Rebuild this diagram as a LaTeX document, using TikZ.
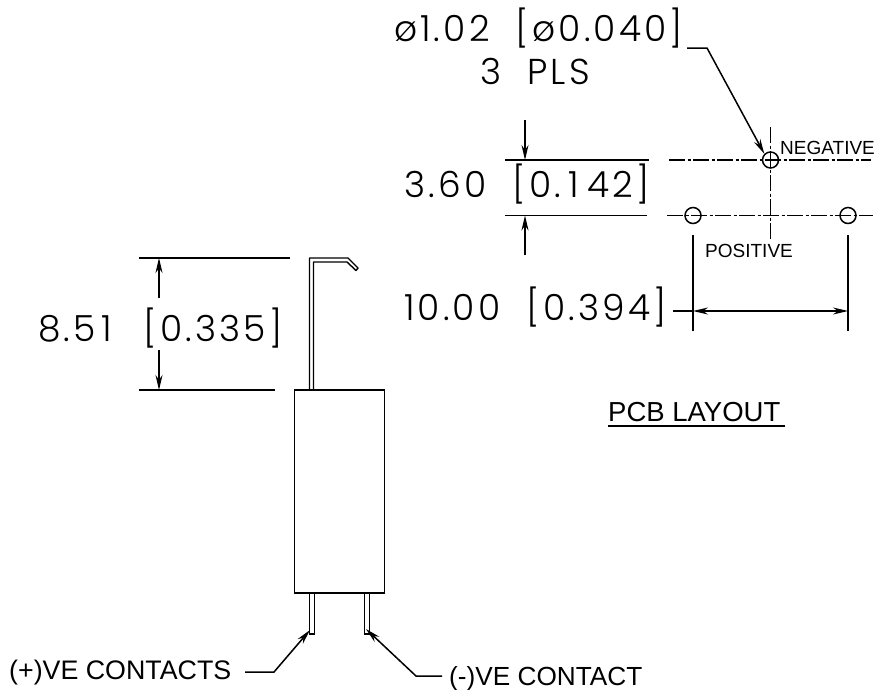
\documentclass[tikz,border=0pt]{standalone}
\usepackage{fontspec}
\setmainfont{Liberation Sans}
\newfontfamily\cadfont[UprightFont=* Light,LetterSpace=9]{Poppins}
\usetikzlibrary{arrows.meta}
\newcommand{\oneK}[1]{\kern#1pt 1\kern#1pt}
\tikzset{
  ln/.style={line width=1.5pt,black},
  thin ln/.style={line width=1.4pt,black},
  tip/.style={-{Stealth[length=15pt,width=7pt]}},
  dim/.style={ln,tip},
  dimb/.style={ln,{Stealth[length=15pt,width=7pt]}-{Stealth[length=15pt,width=7pt]}},
  centre/.style={line width=1.5pt,dash pattern=on 16pt off 2.5pt on 3pt off 2.5pt},
  cad/.style={inner sep=0pt,anchor=base west,font=\cadfont\fontsize{36}{36}\selectfont},
  lbl/.style={inner sep=0pt,anchor=base west,font=\fontsize{26.8}{27}\selectfont},
  small lbl/.style={inner sep=0pt,anchor=base west,font=\fontsize{19}{19}\selectfont},
  hole/.style={circle,draw,line width=1.5pt,minimum size=16pt,inner sep=0pt}
}
\begin{document}
\begin{tikzpicture}[x=1pt,y=-1pt]
\useasboundingbox (0,0) rectangle (882,689);
% texts
\node[cad] (t1) at (394,41) {ø\oneK{3}.02\ \ [ø0.040]};
\node[cad] (t2) at (480,84) {3\ \ PLS};
\node[cad] (t3) at (404,197) {3.60\ \ [0.\oneK{8}42]};
\node[cad] (t4) at (401,320) {\oneK{3}0.00\ \ [0.394]};
\node[cad] (t5) at (38,341) {8.5\oneK{5.5}\ \ [0.335]};
\node[small lbl] (neg) at (780,154) {NEGATIVE};
\node[small lbl] (pos) at (705,257) {POSITIVE};
\node[inner sep=0pt,anchor=base west,font=\fontsize{27.5}{28}\selectfont] (pcb) at (608,421) {PCB LAYOUT};
\coordinate (ua) at (608,426); \coordinate (ub) at (785,426);
\draw[ln] (ua) -- (ub);
\node[lbl] (pc) at (9,679) {(+)VE CONTACTS};
\node[inner sep=0pt,anchor=base west,font=\fontsize{26.2}{27}\selectfont] (nc) at (449,685) {(-)VE CONTACT};
% PCB holes
\node[hole] (hn) at (770.5,160) {};
\node[hole] (hl) at (693,215.5) {};
\node[hole] (hr) at (848,215.5) {};
\draw[centre] (669,160) -- (871,160);
\draw[centre] (667,215.5) -- (873,215.5);
\draw[centre] (770.5,127) -- (770.5,239);
% 3.60 dimension
\coordinate (e1a) at (505,160); \coordinate (e1b) at (649,160);
\coordinate (e2a) at (505,215.5); \coordinate (e2b) at (647,215.5);
\draw[ln] (e1a) -- (e1b);
\draw[ln] (e2a) -- (e2b);
\coordinate (a1) at (525,120); \coordinate (a1t) at (525,160);
\coordinate (a2) at (525,255); \coordinate (a2t) at (525,215.5);
\draw[dim] (a1) -- (a1t);
\draw[dim] (a2) -- (a2t);
% 10.00 dimension
\coordinate (x1a) at (693,235); \coordinate (x1b) at (693,331);
\coordinate (x2a) at (848,235); \coordinate (x2b) at (848,331);
\draw[ln] (x1a) -- (x1b);
\draw[ln] (x2a) -- (x2b);
\coordinate (d0) at (673,311); \coordinate (d1) at (693,311); \coordinate (d2) at (848,311);
\draw[ln] (d0) -- (d1);
\draw[dimb] (d1) -- (d2);
% diameter leader
\coordinate (l0) at (687,48); \coordinate (l1) at (707,48);
\draw[ln,tip] (l0) -- (l1) -- (hn.north west);
% left dimension
\coordinate (s1a) at (139,258); \coordinate (s1b) at (290,258);
\coordinate (s2a) at (139,390); \coordinate (s2b) at (275,390);
\draw[ln] (s1a) -- (s1b);
\draw[ln] (s2a) -- (s2b);
\coordinate (b1) at (159,298); \coordinate (b1t) at (159,258);
\coordinate (b2) at (159,350); \coordinate (b2t) at (159,390);
\draw[dim] (b1) -- (b1t);
\draw[dim] (b2) -- (b2t);
% body and pins
\node[draw,line width=1.4pt,outer sep=0pt,minimum width=90pt,minimum height=203pt,inner sep=0pt,anchor=north west] (body) at (294.5,390) {};
\draw[thin ln,line join=round] (309.5,390) -- (309.5,258) -- (348,258) -- (358,268) -- (356,270.5) -- (347,262) -- (313.5,262) -- (313.5,390);
\draw[thin ln] (309.5,593) -- (309.5,628);
\draw[thin ln] (314.5,593) -- (314.5,634) -- (309.5,634) -- (309.5,628);
\draw[thin ln] (364.5,593) -- (364.5,634) -- (369.5,634) -- (369.5,593);
% contact leaders
\coordinate (c0) at (245,672); \coordinate (c1) at (274,672); \coordinate (c2) at (310,630);
\draw[ln,tip] (c0) -- (c1) -- (c2);
\coordinate (n0) at (442,676); \coordinate (n1) at (416,676); \coordinate (n2) at (366,629);
\draw[ln,tip] (n0) -- (n1) -- (n2);
\end{tikzpicture}
\end{document}
